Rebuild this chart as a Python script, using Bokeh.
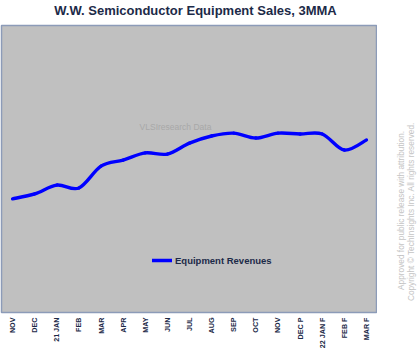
import math
from bokeh.plotting import figure
from bokeh.layouts import row, column
from bokeh.models import (Range1d, FixedTicker, Label, Legend, LegendItem, ColumnDataSource)
from bokeh.embed import file_html
from bokeh.resources import INLINE

title_text = "W.W. Semiconductor Equipment Sales, 3MMA"
months = ["NOV", "DEC", "21 JAN", "FEB", "MAR", "APR", "MAY", "JUN", "JUL",
          "AUG", "SEP", "OCT", "NOV", "DEC P", "22 JAN F", "FEB F", "MAR F"]
revenues = [39.6, 41.3, 44.4, 43.4, 51.0, 53.1, 55.6, 55.2, 59.0,
            61.5, 62.5, 60.8, 62.5, 62.2, 62.2, 56.6, 60.1]
notes = ["Approved for public release with attribution.",
         "Copyright \u00a9 TechInsights Inc.  All rights reserved."]

NAVY = "#1c2a48"
FONT = "Liberation Sans"

n = len(months)
xs = [i + 0.5 for i in range(n)]


def bare(fig):
    fig.axis.visible = False
    fig.grid.visible = False
    fig.outline_line_color = None
    fig.background_fill_color = "white"
    fig.border_fill_color = "white"


# title strip
t = figure(width=417, height=24, output_backend="svg", toolbar_location=None,
           x_range=Range1d(0, 417), y_range=Range1d(0, 24),
           min_border_left=0, min_border_right=0, min_border_top=0, min_border_bottom=0)
bare(t)
t.add_layout(Label(x=195, y=14.5, text=title_text, text_font=FONT, text_font_size="13px",
                   text_font_style="bold", text_color=NAVY, text_align="center",
                   text_baseline="alphabetic"))

p = figure(width=377, height=329, output_backend="svg", toolbar_location=None,
           x_range=Range1d(0, n), y_range=Range1d(0, 100),
           min_border_left=1, min_border_right=0, min_border_top=1,
           min_border_bottom=41)

p.background_fill_color = "#c0c0c0"
p.border_fill_color = "white"
p.outline_line_color = "#8c9bb8"
p.outline_line_width = 1.5
p.grid.visible = False
p.yaxis.visible = False

ax = p.xaxis[0]
ax.ticker = FixedTicker(ticks=xs)
ax.major_label_overrides = {x: m for x, m in zip(xs, months)}
ax.major_label_orientation = math.pi / 2
ax.major_label_text_font = FONT
ax.major_label_text_font_size = "7.2px"
ax.major_label_text_font_style = "bold"
ax.major_label_text_color = NAVY
ax.major_label_standoff = 5
ax.major_tick_out = 0
ax.major_tick_in = 0
ax.minor_tick_out = 0
ax.minor_tick_in = 0
ax.axis_line_color = None
ax.major_tick_line_color = None
ax.minor_tick_line_color = None

# smooth curve through the data points (Catmull-Rom -> cubic Bezier)
x0, y0, x1, y1, cx0, cy0, cx1, cy1 = [], [], [], [], [], [], [], []
for i in range(n - 1):
    pa = (xs[max(i - 1, 0)], revenues[max(i - 1, 0)])
    pb = (xs[i], revenues[i])
    pc = (xs[i + 1], revenues[i + 1])
    pd = (xs[min(i + 2, n - 1)], revenues[min(i + 2, n - 1)])
    x0.append(pb[0]); y0.append(pb[1]); x1.append(pc[0]); y1.append(pc[1])
    cx0.append(pb[0] + (pc[0] - pa[0]) / 6); cy0.append(pb[1] + (pc[1] - pa[1]) / 6)
    cx1.append(pc[0] - (pd[0] - pb[0]) / 6); cy1.append(pc[1] - (pd[1] - pb[1]) / 6)
src = ColumnDataSource(dict(x0=x0, y0=y0, x1=x1, y1=y1, cx0=cx0, cy0=cy0, cx1=cx1, cy1=cy1))
r = p.bezier(x0="x0", y0="y0", x1="x1", y1="y1", cx0="cx0", cy0="cy0", cx1="cx1", cy1="cy1",
             source=src, line_color="#0000ff", line_width=3.4, line_cap="round")

legend = Legend(items=[LegendItem(label="Equipment Revenues", renderers=[r])],
                location=(151, 46), padding=0, spacing=0, margin=0,
                glyph_width=20, glyph_height=12, label_height=12, label_standoff=3,
                label_text_font=FONT, label_text_font_size="9.5px",
                label_text_font_style="bold", label_text_color=NAVY,
                border_line_alpha=0, background_fill_alpha=0)
p.add_layout(legend)

p.add_layout(Label(x=174, y=186, x_units="screen", y_units="screen",
                   text="VLSIresearch Data", text_font=FONT, text_font_size="8.5px",
                   text_color="#a8a8a8", text_align="center", text_baseline="middle"))

# side panel with the rotated notes
q = figure(width=40, height=329, output_backend="svg", toolbar_location=None,
           x_range=Range1d(0, 40), y_range=Range1d(0, 329),
           min_border_left=0, min_border_right=0, min_border_top=0, min_border_bottom=0)
bare(q)
for i, txt in enumerate(notes):
    q.add_layout(Label(x=23 + 10 * i, y=117, angle=math.pi / 2, text=txt,
                       text_font=FONT, text_font_size="8.3px", text_color="#c4c4c4",
                       text_align="center", text_baseline="middle"))

layout = column(t, row(p, q, spacing=0), spacing=0)
open("out.html", "w").write(file_html(layout, INLINE))
